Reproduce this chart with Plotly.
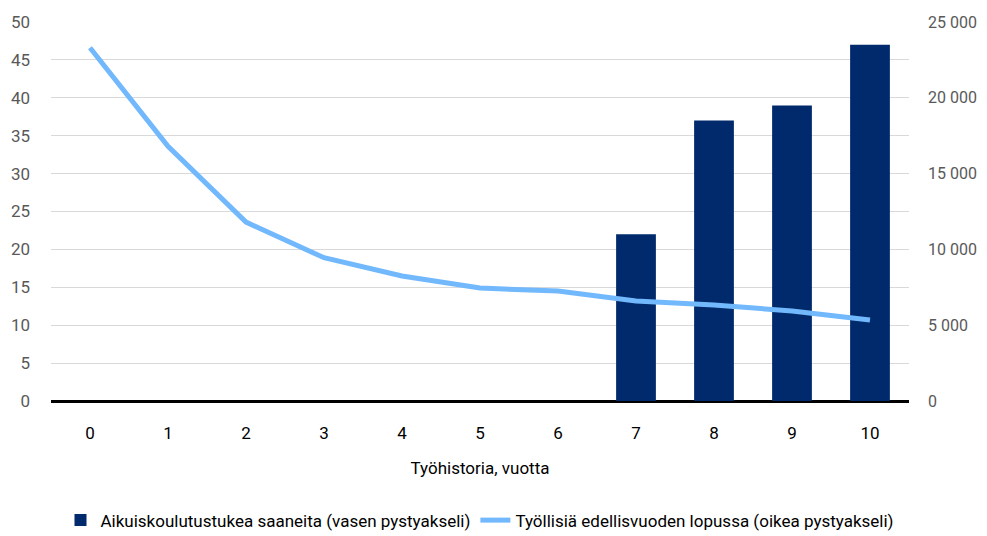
import plotly.graph_objects as go

years = [0, 1, 2, 3, 4, 5, 6, 7, 8, 9, 10]
bar_values = [None, None, None, None, None, None, None, 22, 37, 39, 47]
line_values = [23300, 16800, 11800, 9450, 8250, 7450, 7250, 6600, 6330, 5940, 5340]
left_ticks = [0, 5, 10, 15, 20, 25, 30, 35, 40, 45, 50]
right_ticks = [0, 5000, 10000, 15000, 20000, 25000]
right_labels = ["0", "5 000", "10 000", "15 000", "20 000", "25 000"]

bar_name = "Aikuiskoulutustukea saaneita (vasen pystyakseli)"
line_name = "Työllisiä edellisvuoden lopussa (oikea pystyakseli)"
x_title = "Työhistoria, vuotta"

FONT = "Roboto, Liberation Sans, sans-serif"
TXT = "#595959"

fig = go.Figure()
fig.add_trace(go.Bar(
    x=years, y=bar_values, name=bar_name,
    marker=dict(color="#002A6C", line=dict(width=0)),
    width=0.51, yaxis="y",
))
fig.add_trace(go.Scatter(
    x=years, y=line_values, name=line_name, mode="lines",
    line=dict(color="#72B8FD", width=5),
    yaxis="y2",
))

fig.update_layout(
    width=979, height=528,
    margin=dict(l=43, r=78, t=14, b=135, autoexpand=False),
    paper_bgcolor="white", plot_bgcolor="white",
    font=dict(family=FONT, size=17, color=TXT),
    showlegend=True,
    legend=dict(orientation="h", x=0.5, xanchor="center", y=-0.268, yanchor="top",
                font=dict(size=17, color="#000000"), traceorder="normal",
                itemsizing="constant"),
    xaxis=dict(
        tickmode="array", tickvals=years, ticktext=[str(v) for v in years],
        range=[-0.5, 10.5], showgrid=False, zeroline=False, showline=False,
        ticks="", ticklabelstandoff=20, automargin=False,
        title=dict(text=x_title, standoff=20, font=dict(size=17, color="#000000")),
        tickfont=dict(color="#000000"),
    ),
    yaxis=dict(
        range=[0, 50], tickmode="array", tickvals=left_ticks,
        showgrid=True, gridcolor="#D9D9D9", gridwidth=1,
        zeroline=True, zerolinecolor="#000000", zerolinewidth=3,
        showline=False, ticks="", ticklabelstandoff=20, automargin=False,
    ),
    yaxis2=dict(
        range=[0, 25000], overlaying="y", side="right", tickmode="array",
        tickvals=right_ticks, ticktext=right_labels,
        showgrid=False, zeroline=False, showline=False, ticks="",
        ticklabelstandoff=18, automargin=False, tickfont=dict(size=16),
    ),
)

fig.write_html("out.html")
